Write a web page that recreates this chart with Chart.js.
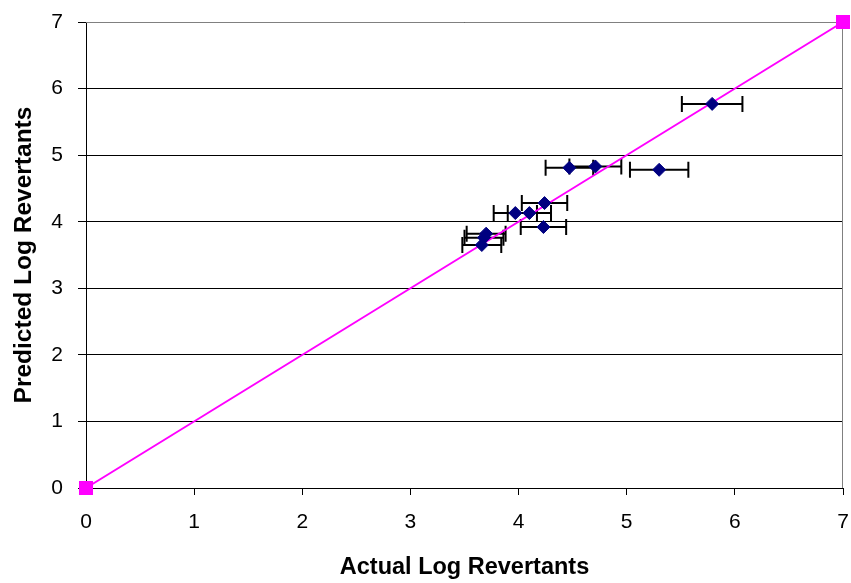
<!DOCTYPE html>
<html>
<head>
<meta charset="utf-8">
<script src="https://cdn.jsdelivr.net/npm/chart.js@4/dist/chart.umd.min.js"></script>
<style>
  html, body { margin: 0; padding: 0; background: #fff; }
  #wrap { width: 851px; height: 583px; }
</style>
</head>
<body>
<div id="wrap"><canvas id="chart" width="851" height="583"></canvas></div>
<script>
// Data
const actual    = [5.79, 5.30, 4.47, 4.71, 4.24, 3.97, 4.10, 4.23, 3.70, 3.68, 3.66];
const predicted = [5.77, 4.78, 4.81, 4.83, 4.28, 4.13, 4.13, 3.92, 3.82, 3.76, 3.65];
const errX      = [0.28, 0.27, 0.22, 0.24, 0.21, 0.20, 0.20, 0.21, 0.18, 0.18, 0.18];
const lineX = [0, 7];
const lineY = [0, 7];
const axisTicks = [0, 1, 2, 3, 4, 5, 6, 7];

const points = actual.map((x, i) => ({ x: x, y: predicted[i], e: errX[i] }));
const identity = lineX.map((x, i) => ({ x: x, y: lineY[i] }));

Chart.defaults.font.family = "'Liberation Sans', Arial, sans-serif";
Chart.defaults.color = '#000';

// Horizontal error bars, drawn under the markers
const errorBars = {
    id: 'errorBars',
    beforeDatasetsDraw(chart) {
        const ctx = chart.ctx;
        const xs = chart.scales.x, ys = chart.scales.y;
        ctx.save();
        ctx.strokeStyle = '#000';
        ctx.lineWidth = 2;
        points.forEach(p => {
            const x1 = xs.getPixelForValue(p.x - p.e);
            const x2 = xs.getPixelForValue(p.x + p.e);
            const y = ys.getPixelForValue(p.y);
            ctx.beginPath();
            ctx.moveTo(x1, y); ctx.lineTo(x2, y);
            ctx.moveTo(x1, y - 8); ctx.lineTo(x1, y + 8);
            ctx.moveTo(x2, y - 8); ctx.lineTo(x2, y + 8);
            ctx.stroke();
        });
        ctx.restore();
    }
};

// Grey frame on the top and right of the plot area
const frame = {
    id: 'frame',
    beforeDatasetsDraw(chart) {
        const a = chart.chartArea, ctx = chart.ctx;
        ctx.save();
        ctx.strokeStyle = '#808080';
        ctx.lineWidth = 1;
        ctx.beginPath();
        ctx.moveTo(a.left, a.top + 0.5); ctx.lineTo(a.right - 0.5, a.top + 0.5);
        ctx.lineTo(a.right - 0.5, a.bottom);
        ctx.stroke();
        ctx.restore();
    }
};

new Chart(document.getElementById('chart'), {
    type: 'scatter',
    data: {
        datasets: [
            {
                label: 'Data',
                data: points,
                pointStyle: 'rectRot',
                pointRadius: 6.5,
                pointHoverRadius: 6.5,
                backgroundColor: '#000080',
                borderColor: '#000080',
                borderWidth: 1,
                clip: false,
                order: 0
            },
            {
                label: 'Line',
                data: identity,
                showLine: true,
                borderColor: '#ff00ff',
                backgroundColor: '#ff00ff',
                borderWidth: 2,
                pointStyle: 'rect',
                pointRadius: 8.5,
                pointHoverRadius: 8.5,
                clip: false,
                order: 1
            }
        ]
    },
    options: {
        responsive: false,
        animation: false,
        layout: { autoPadding: false, padding: { left: 0, right: 8, top: 22, bottom: 0 } },
        plugins: { legend: { display: false }, tooltip: { enabled: false } },
        scales: {
            x: {
                type: 'linear',
                min: 0, max: 7,
                afterBuildTicks: s => { s.ticks = axisTicks.map(v => ({ value: v })); },
                afterFit: s => { s.height = 95; s.paddingLeft = 0; s.paddingRight = 0; },
                grid: { drawOnChartArea: false, color: '#000', tickLength: 7 },
                border: { color: '#000', width: 1 },
                ticks: { font: { size: 21 }, padding: 15, color: '#000' },
                title: {
                    display: true, text: 'Actual Log Revertants',
                    font: { size: 23.5, weight: 'bold' }, padding: { top: 4, bottom: 1 }
                }
            },
            y: {
                type: 'linear',
                min: 0, max: 7,
                afterBuildTicks: s => { s.ticks = axisTicks.map(v => ({ value: v })); },
                afterFit: s => { s.width = 86; s.paddingTop = 0; s.paddingBottom = 0; },
                grid: { color: '#000', tickLength: 8 },
                border: { color: '#000', width: 1 },
                ticks: { font: { size: 21 }, padding: 15, color: '#000' },
                title: {
                    display: true, text: 'Predicted Log Revertants',
                    font: { size: 24.5, weight: 'bold' }, padding: { top: 10, bottom: 0 }
                }
            }
        }
    },
    plugins: [errorBars, frame]
});
</script>
</body>
</html>
